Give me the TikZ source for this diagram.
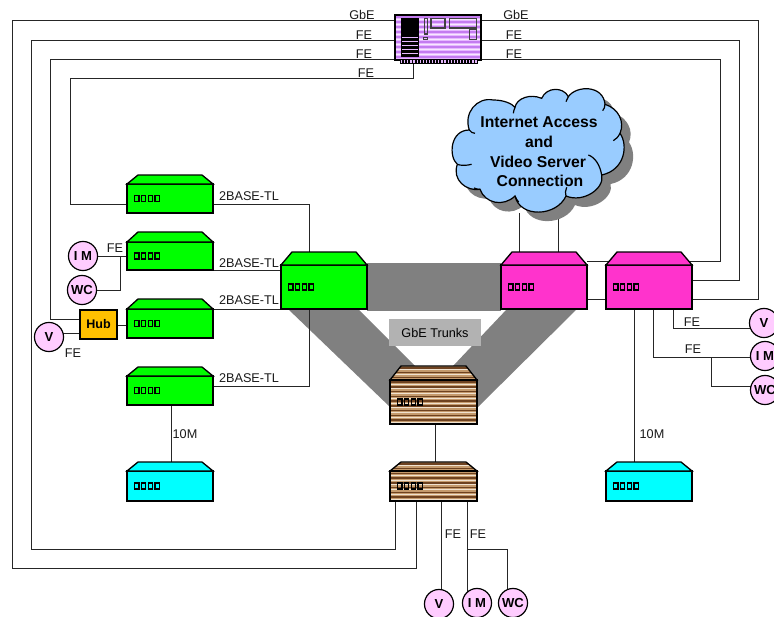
\documentclass[tikz,border=0pt]{standalone}
\usepackage{fontspec}
\setmainfont{Liberation Sans}
\pgfdeclarelayer{trunk}
\pgfdeclarelayer{lines}
\pgfsetlayers{trunk,lines,main}
\definecolor{swgreen}{HTML}{00FF00}
\definecolor{swpink}{HTML}{FF33CC}
\definecolor{swcyan}{HTML}{00FFFF}
\definecolor{phonepink}{HTML}{FFCCFF}
\definecolor{hubgold}{HTML}{FFC000}
\definecolor{cloudblue}{HTML}{99CCFF}
\definecolor{trunkgrey}{HTML}{808080}
\definecolor{labelgrey}{HTML}{B2B2B2}
\definecolor{brownbase}{HTML}{C49A6C}
\definecolor{browndark}{HTML}{6E4220}
\definecolor{brownlight}{HTML}{F0E2D0}
\definecolor{srvbase}{HTML}{E6B8FF}
\definecolor{srvdark}{HTML}{C47CF0}
\definecolor{srvlight}{HTML}{F8E8FF}
\tikzset{
  wire/.style={draw=black!85,line width=0.75pt},
  boxline/.style={draw=black,line width=1pt,line join=miter},
  portbox/.style={draw=black,line width=0.9pt},
  txt/.style={font=\fontsize{9.5pt}{11pt}\selectfont,inner sep=0pt,text=black!90},
  phone/.style={circle,draw=black,line width=0.9pt,fill=phonepink,minimum size=21.8pt,inner sep=0pt,outer sep=0pt,font=\bfseries\fontsize{9.8pt}{11pt}\selectfont},
  cloudtxt/.style={font=\bfseries\fontsize{11.8pt}{13pt}\selectfont,inner sep=0pt},
  cloudarc/.style={black,line width=0.9pt},
}
\newcommand\cloudshape[1]{\path[#1] (88,180) .. controls (70,130) and (110,80) .. (160,90) .. controls (190,90) and (215,100) .. (225,112)
 .. controls (230,85) and (270,70) .. (305,85) .. controls (320,50) and (370,50) .. (385,80)
 .. controls (410,45) and (490,45) .. (495,103) .. controls (535,115) and (555,155) .. (540,190)
 .. controls (565,225) and (555,300) .. (485,315) .. controls (495,355) and (430,400) .. (378,378)
 .. controls (350,440) and (240,445) .. (225,378) .. controls (190,412) and (135,400) .. (120,358)
 .. controls (80,365) and (35,330) .. (52,283) .. controls (25,260) and (30,180) .. (88,180) -- cycle;}
% name, xl, xr, ytop, yfront, ybottom, fill
\newcommand\netbox[7]{%
  \pgfmathsetmacro\nbw{(#3-#2)*0.75}%
  \pgfmathsetmacro\nbh{(#6-#5)*0.75}%
  \node[boxline,rectangle,inner sep=0pt,outer sep=0pt,fill=#7,minimum width=\nbw pt,minimum height=\nbh pt] (#1) at ({(#2+#3)/2},{(#5+#6)/2}) {};
  \path[boxline,fill=#7] (#1.north west) -- ({#2+11},#4) -- ({#3-11},#4) -- (#1.north east) -- cycle;
  \foreach \pn in {0,1,2,3} {
    \path[portbox,fill=#7] ({#2+7.5+\pn*6.8},{(#5+#6)/2-3}) rectangle ({#2+12+\pn*6.8},{(#5+#6)/2+3});
  }
}
% xl, xr, ytop, yfront, ybottom
\newcommand\brownfill[5]{%
  \begin{scope}
    \clip (#1,#5) -- (#1,#4) -- ({#1+11},#3) -- ({#2-11},#3) -- (#2,#4) -- (#2,#5) -- cycle;
    \fill[brownbase] (#1,#3) rectangle (#2,#5);
    \foreach \si in {0,...,14} {
      \fill[browndark] (#1,{#3+1+\si*4.75}) rectangle (#2,{#3+2.6+\si*4.75});
      \fill[brownlight] (#1,{#3+3.4+\si*4.75}) rectangle (#2,{#3+4.4+\si*4.75});
    }
  \end{scope}
}
\begin{document}
\begin{tikzpicture}[x=0.75pt,y=-0.75pt]
\useasboundingbox (0,0) rectangle (774,617);

% switches
\netbox{gA}{127}{213}{175}{184}{213}{swgreen}
\netbox{gB}{127}{213}{232}{242}{270}{swgreen}
\netbox{gC}{127}{213}{299}{309}{338}{swgreen}
\netbox{gD}{127}{213}{367}{376}{405}{swgreen}
\netbox{gBig}{281}{367}{252}{265}{309}{swgreen}
\netbox{pA}{501}{587}{252}{265}{309}{swpink}
\netbox{pB}{606}{692}{252}{265}{309}{swpink}
\netbox{cA}{127}{213}{462}{471}{501}{swcyan}
\netbox{cB}{606}{692}{462}{471}{501}{swcyan}
\brownfill{390}{477}{366}{380}{424}
\netbox{brBig}{390}{477}{366}{380}{424}{none}
\brownfill{390}{477}{462}{471}{501}
\netbox{brSm}{390}{477}{462}{471}{501}{none}

% server
\node[rectangle,inner sep=0pt,outer sep=0pt,minimum width=64.5pt,minimum height=33.75pt] (srv) at (438,37.5) {};
\begin{scope}
  \clip (395,15) rectangle (481,60);
  \fill[srvbase] (395,15) rectangle (481,60);
  \foreach \si in {0,...,9} {
    \fill[srvdark] (395,{16+\si*5}) rectangle (481,{17.6+\si*5});
    \fill[srvlight] (395,{18.6+\si*5}) rectangle (481,{19.6+\si*5});
  }
\end{scope}
\draw[boxline] (srv.south west) rectangle (srv.north east);
\fill[black] (401,18) rectangle (419,57);
\foreach \sy in {37,41,45,49,53} { \fill[srvbase] (402,\sy) rectangle (418,{\sy+1.2}); }
\draw[black!75,line width=0.8pt] (424.5,18.5) rectangle (427.5,34);
\draw[black!75,line width=0.8pt] (423.5,37.5) rectangle (427.5,39.5);
\draw[black!75,line width=0.8pt] (431,18.5) rectangle (445,28);
\draw[black!75,line width=0.8pt] (449.5,18.5) rectangle (476.5,28);
\draw[black!75,line width=0.8pt] (469.5,29.5) rectangle (476.5,39.5);
\fill[black] (399.5,59.5) rectangle (478,64);
\foreach \si in {0,...,24} { \fill[srvbase] ({401+\si*3.1},60.5) rectangle ({402.2+\si*3.1},63); }

% cloud (zoom units: 3 per pixel)
\begin{scope}[shift={(449,79)},x=0.25pt,y=-0.25pt]
\cloudshape{fill=trunkgrey}
\end{scope}
\begin{scope}[shift={(440,70)},x=0.25pt,y=-0.25pt]
\cloudshape{draw=black,line width=0.9pt,fill=cloudblue}
\draw[cloudarc] (88,180) .. controls (92,186) and (98,190) .. (105,190);
\draw[cloudarc] (225,112) .. controls (222,120) and (220,126) .. (220,130);
\draw[cloudarc] (385,80) .. controls (382,85) and (380,90) .. (378,95);
\draw[cloudarc] (495,103) .. controls (495,110) and (492,118) .. (488,122);
\draw[cloudarc] (540,190) .. controls (535,200) and (528,208) .. (520,212);
\draw[cloudarc] (485,315) .. controls (480,285) and (465,262) .. (445,255);
\draw[cloudarc] (378,378) .. controls (375,370) and (376,362) .. (380,352);
\draw[cloudarc] (225,378) .. controls (228,385) and (232,392) .. (236,396);
\draw[cloudarc] (120,358) .. controls (115,358) and (108,357) .. (102,354);
\draw[cloudarc] (52,283) .. controls (62,287) and (78,287) .. (95,283);
\end{scope}
\node[cloudtxt] (t1) at (539,122) {Internet Access};
\node[cloudtxt] (t2) at (539,142) {and};
\node[cloudtxt] (t3) at (538,162) {Video Server};
\node[cloudtxt] (t4) at (540,181) {Connection};

% hub and phones
\node[rectangle,draw=black,line width=0.8pt,fill=hubgold,inner sep=0pt,outer sep=0pt,minimum width=27.75pt,minimum height=21.75pt,font=\bfseries\fontsize{9.4pt}{11pt}\selectfont] (hub) at (98.5,324.5) {Hub};
\node[phone] (imL) at (83,256) {I M};
\node[phone] (wcL) at (82,290) {WC};
\node[phone] (vL) at (49,337) {V};
\node[phone] (vR) at (764,323) {V};
\node[phone] (imR) at (765,356) {I M};
\node[phone] (wcR) at (765,390) {WC};
\node[phone] (vB) at (439,604) {V};
\node[phone] (imB) at (477,603) {I M};
\node[phone] (wcB) at (513,603) {WC};

% labels
\node[txt] (l1) at (362,15) {GbE};
\node[txt] (l2) at (516,15) {GbE};
\node[txt] (l3) at (364,35) {FE};
\node[txt] (l4) at (514,35) {FE};
\node[txt] (l5) at (364,54) {FE};
\node[txt] (l6) at (514,54) {FE};
\node[txt] (l7) at (366,73) {FE};
\node[txt] (l8) at (249,196) {2BASE-TL};
\node[txt] (l9) at (249,263) {2BASE-TL};
\node[txt] (l10) at (249,300) {2BASE-TL};
\node[txt] (l11) at (249,378) {2BASE-TL};
\node[txt] (l12) at (115,248) {FE};
\node[txt] (l13) at (73,353) {FE};
\node[txt] (l14) at (185,434) {10M};
\node[txt] (l15) at (652,434) {10M};
\node[txt] (l16) at (692,322) {FE};
\node[txt] (l17) at (693,349) {FE};
\node[txt] (l18) at (453,534) {FE};
\node[txt] (l19) at (478,534) {FE};
\node[rectangle,fill=labelgrey,inner sep=0pt,minimum width=69pt,minimum height=20.25pt,font=\fontsize{9.5pt}{11pt}\selectfont] (trk) at (435,332.5) {GbE Trunks};

\begin{pgfonlayer}{trunk}
  \fill[trunkgrey] (gBig.east |- 0,263) rectangle (pA.west |- 0,311);
  \fill[trunkgrey] (288,309) -- (358,309) -- (415,366) -- (brBig.north) -- (brBig.west |- 0,407) -- cycle;
  \fill[trunkgrey] (507,309) -- (577,309) -- (brBig.east |- 0,408) -- (brBig.north) -- (453,366) -- cycle;
\end{pgfonlayer}

\begin{pgfonlayer}{lines}
  % server uplinks
  \draw[wire] (srv.west |- 0,21) -- (12,21) -- (12,568) -- (416,568) -- (brSm.south -| 416,0);
  \draw[wire] (srv.west |- 0,41) -- (31,41) -- (31,549) -- (395,549) -- (brSm.south -| 395,0);
  \draw[wire] (srv.west |- 0,60) -- (50,60) -- (50,319) -- (hub.west |- 0,319);
  \draw[wire] (srv.south -| 413,0) -- (413,79) -- (70,79) -- (70,204) -- (gA.west |- 0,204);
  \draw[wire] (srv.east |- 0,21) -- (758.5,21) -- (758.5,299) -- (pB.east |- 0,299);
  \draw[wire] (srv.east |- 0,41) -- (739.5,41) -- (739.5,280) -- (pB.east |- 0,280);
  \draw[wire] (srv.east |- 0,60) -- (720.5,60) -- (720.5,261) -- (pA.east |- 0,261);
  % 2BASE-TL links
  \draw[wire] (gA.east |- 0,204) -- (309,204) -- (gBig.north -| 309,0);
  \draw[wire] (gB.south east) -- (gBig.west |- 0,270);
  \draw[wire] (gC.north east) -- (gBig.south west);
  \draw[wire] (gD.east |- 0,386) -- (309,386) -- (gBig.south -| 309,0);
  \draw[wire] (gD.south -| 171,0) -- (171,462);
  % left phones
  \draw[wire] (imL) -- (gB.west |- imL);
  \draw[wire] (wcL) -- (120,290) -- (120,256);
  \draw[wire] (hub.east |- 0,325) -- (gC.west |- 0,325);
  \draw[wire] (vL.center |- 0,333) -- (hub.west |- 0,333);
  % cloud
  \draw[wire] (519.5,213) -- (519.5,255);
  \draw[wire] (558,210) -- (558,255);
  % pink
  \draw[wire] (pA.east |- 0,299) -- (pB.west |- 0,299);
  \draw[wire] (pB.south -| 634,0) -- (634,462);
  \draw[wire] (pB.south -| 673,0) -- (673,328) -- (vR.center |- 0,328);
  \draw[wire] (pB.south -| 653.5,0) -- (653.5,357) -- (imR.center |- 0,357);
  \draw[wire] (711,357) -- (711,386) -- (wcR.center |- 0,386);
  % brown
  \draw[wire] (brBig.south -| 435.5,0) -- (435.5,465);
  \draw[wire] (brSm.south -| 441.5,0) -- (441.5,595);
  \draw[wire] (brSm.south -| 467,0) -- (467,595);
  \draw[wire] (467,549) -- (507,549) -- (507,595);
\end{pgfonlayer}
\end{tikzpicture}
\end{document}
